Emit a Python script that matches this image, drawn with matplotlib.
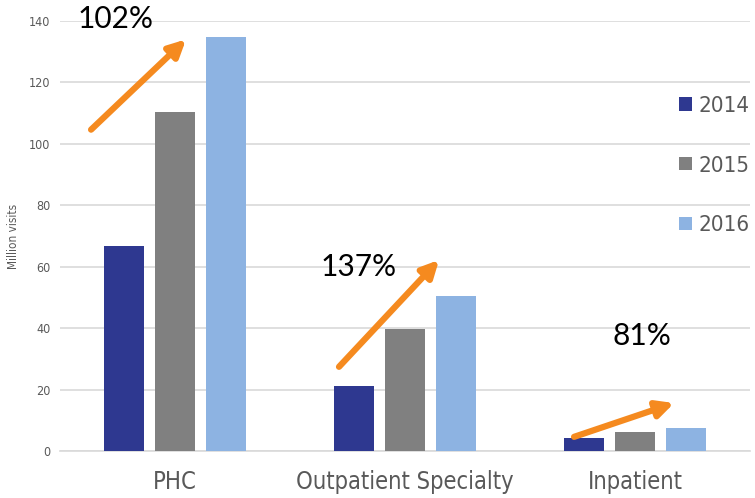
import matplotlib
matplotlib.use("Agg")
import matplotlib.pyplot as plt
import numpy as np

categories = ["PHC", "Outpatient Specialty", "Inpatient"]
years = ["2014", "2015", "2016"]
visits_2014 = [66.8, 21.2, 4.2]
visits_2015 = [110.4, 39.7, 6.2]
visits_2016 = [134.9, 50.5, 7.5]
growth_labels = ["102%", "137%", "81%"]
yticks = [0, 20, 40, 60, 80, 100, 120, 140]

colors = ["#2E3890", "#808080", "#8DB3E2"]
arrow_color = "#F58A1F"
text_grey = "#595959"
cond = dict(family="DejaVu Sans", stretch="condensed")

fig = plt.figure(figsize=(7.55, 4.98), dpi=100)
ax = fig.add_axes([0.0795, 0.0944, 0.9139, 0.8636])

x = np.arange(len(categories))
width = 0.174
step = 0.222
for i, (vals, yr) in enumerate(zip([visits_2014, visits_2015, visits_2016], years)):
    ax.bar(x + (i - 1) * step, vals, width, color=colors[i], label=yr, zorder=3)

ax.set_xlim(-0.5, 2.5)
ax.set_ylim(0, 140)
ax.set_yticks(yticks)
ax.set_yticklabels([str(t) for t in yticks], fontsize=9, color=text_grey, **cond)
ax.set_xticks(x)
ax.set_xticklabels(categories, fontsize=17, color=text_grey, **cond)
ax.tick_params(axis="both", length=0)
ax.tick_params(axis="x", pad=14)
ax.tick_params(axis="y", pad=7)
ax.grid(axis="y", color="#D9D9D9", linewidth=1.2, zorder=0)
for s in ["top", "right", "left"]:
    ax.spines[s].set_visible(False)
ax.spines["bottom"].set_color("#D9D9D9")
ax.spines["bottom"].set_linewidth(1.2)
ax.set_ylabel("Million visits", fontsize=8.5, color=text_grey, **cond)
ax.yaxis.set_label_coords(-0.058, 0.5)

# growth arrows from 2014 to 2016
arrows = [((-0.365, 104.6), (0.048, 134.0)),
          ((0.713, 27.4), (1.148, 62.2)),
          ((1.735, 4.6), (2.17, 15.6))]
for (tail, head) in arrows:
    ax.annotate("", xy=head, xytext=tail,
                arrowprops=dict(arrowstyle="-|>,head_length=1.0,head_width=0.5",
                                color=arrow_color, lw=4.5, shrinkA=0, shrinkB=0),
                zorder=5, annotation_clip=False)

label_pos = [(-0.257, 140.5), (0.8, 60.0), (2.03, 37.5)]
for (lx, ly), txt in zip(label_pos, growth_labels):
    ax.text(lx, ly, txt, ha="center", va="center", fontsize=21.5,
            family=["Lato", "DejaVu Sans"], color="black", zorder=6, clip_on=False)

leg = ax.legend(loc="upper right", bbox_to_anchor=(1.012, 0.846), frameon=False,
                handlelength=0.55, handleheight=0.55, handletextpad=0.3,
                labelspacing=1.78, borderaxespad=0,
                prop=dict(size=16, **cond))
for t in leg.get_texts():
    t.set_color(text_grey)

fig.savefig("out.png", dpi=100)
